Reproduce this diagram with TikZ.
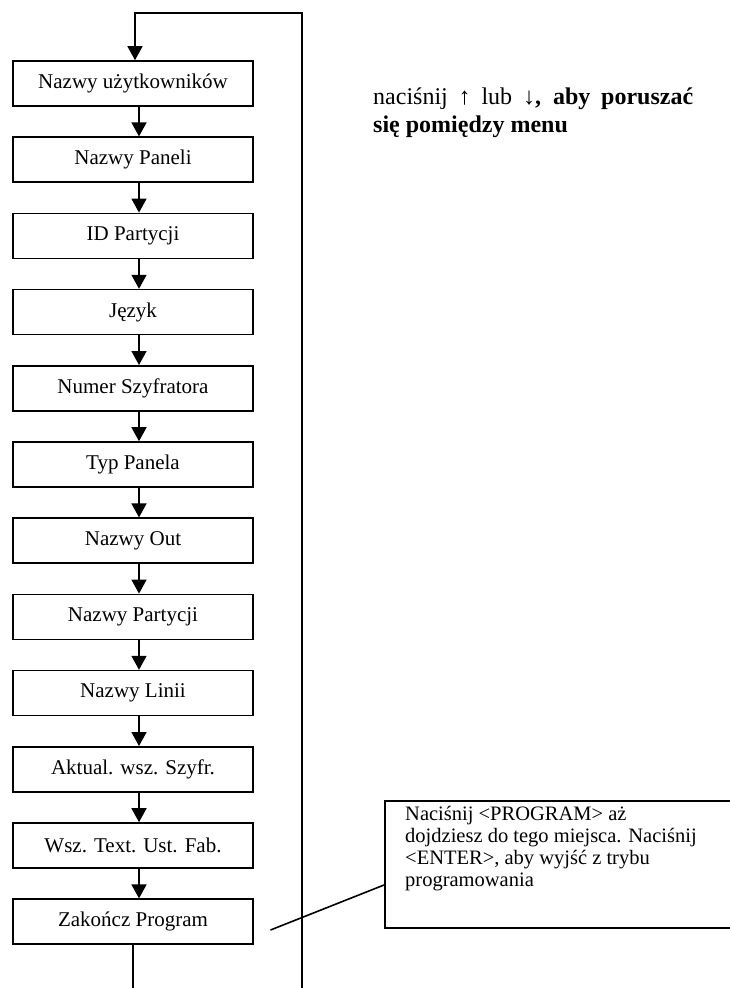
\documentclass[tikz,border=0pt]{standalone}
\usepackage{fontspec}
\setmainfont{Liberation Serif}
\usetikzlibrary{arrows.meta}
\begin{document}
\begin{tikzpicture}[x=1pt,y=-1pt,
  menubox/.style={draw,line width=1.6pt,minimum width=240pt,minimum height=45pt,inner sep=0pt,
    font=\fontsize{21}{22}\selectfont},
  arr/.style={line width=1.6pt,-{Triangle[length=14pt,width=15pt]}},
  plain/.style={line width=1.6pt}]
\useasboundingbox (0,0) rectangle (730,988);
\def\pitch{76.2}
\foreach \t [count=\i] in {Nazwy użytkowników,Nazwy Paneli,ID Partycji,Język,Numer Szyfratora,Typ Panela,Nazwy Out,Nazwy Partycji,Nazwy Linii,Aktual. wsz. Szyfr.,Wsz. Text. Ust. Fab.,Zakończ Program}
  \node[menubox] (b\i) at (133,{83.5+(\i-1)*\pitch}) {\t};
\foreach \i [evaluate=\i as \j using int(\i+1)] in {1,...,11}
  \draw[arr] ([xshift=6pt]b\i.south) -- ([xshift=6pt]b\j.north);
% loop back
\coordinate (lb) at (133,995);
\coordinate (rb) at (302,995);
\coordinate (rt) at (302,13);
\coordinate (lt) at (135,13);
\draw[plain] (b12.south) -- (lb);
\draw[arr] (rb) -- (rt) -- (lt) -- (lt |- b1.north);
% top-right note
\node[anchor=north west,inner sep=0pt,align=left,font=\fontsize{24}{27.5}\selectfont] (note) at (373,88)
  {\makebox[320pt][s]{naciśnij ↑ lub ↓\textbf{, aby poruszać}}\\\textbf{się pomiędzy menu}};
% callout
\node[draw,line width=1.6pt,anchor=north west,minimum width=360pt,minimum height=127pt,inner sep=0pt] (cbox) at (384,800) {};
\node[anchor=north west,inner sep=0pt,align=left,font=\fontsize{20.5}{22}\selectfont] (ctext) at (405,806)
  {Naciśnij <PROGRAM> aż\\dojdziesz do tego miejsca. Naciśnij\\<ENTER>, aby wyjść z trybu\\programowania};
\coordinate (cl) at (270.5,930);
\draw[plain] (cl) -- (cbox.west |- 0,885);
\end{tikzpicture}
\end{document}
